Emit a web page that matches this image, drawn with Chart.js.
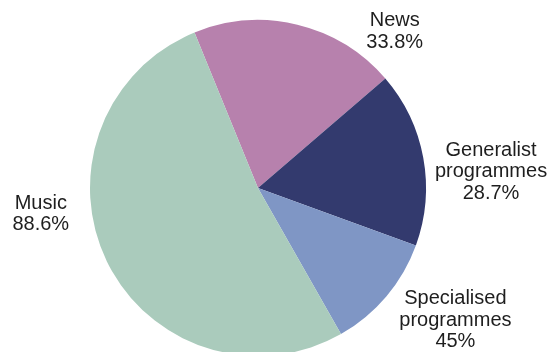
<!DOCTYPE html>
<html>
<head>
<meta charset="utf-8">
<script src="https://cdn.jsdelivr.net/npm/chart.js@4/dist/chart.umd.min.js"></script>
<style>
  html, body { margin: 0; padding: 0; background: #fff; }
  #wrap { width: 547px; height: 352px; overflow: hidden; }
</style>
</head>
<body>
<div id="wrap"><canvas id="pieChart" width="547" height="356"></canvas></div>
<script>
// Categories as they read on the chart
const categories = ['News', 'Generalist\nprogrammes', 'Specialised\nprogrammes', 'Music'];
// Printed value labels
const valueLabels = ['33.8%', '28.7%', '45%', '88.6%'];
// Slice sizes as drawn in the source (the "45%" slice is drawn much smaller, ~19)
const sliceSizes = [33.8, 28.7, 19.1, 88.6];
const sliceColors = ['#b781ad', '#333a6e', '#7f96c5', '#aacbbc'];

// where each label sits: angle clockwise from top (deg) and distance in pie radii
const labelLayout = [
  { angle: 40.9, dist: 1.243 },
  { angle: 85.7, dist: 1.391 },
  { angle: 123.5, dist: 1.409 },
  { angle: 263.6, dist: 1.301 },
];

const outsideLabels = {
  id: 'outsideLabels',
  afterDatasetsDraw(chart) {
    const ctx = chart.ctx;
    const arcs = chart.getDatasetMeta(0).data;
    const lineHeight = 21.7;
    ctx.save();
    ctx.font = '20px "Liberation Sans", Arial, sans-serif';
    ctx.fillStyle = '#1e1e1e';
    ctx.textAlign = 'center';
    ctx.textBaseline = 'alphabetic';
    arcs.forEach((arc, i) => {
      const a = labelLayout[i].angle * Math.PI / 180;
      const d = arc.outerRadius * labelLayout[i].dist;
      const cx = arc.x + Math.sin(a) * d;
      const cy = arc.y - Math.cos(a) * d;
      const lines = categories[i].split('\n').concat(valueLabels[i]);
      let y = cy + 7 - (lines.length - 1) * lineHeight / 2;
      lines.forEach((line) => {
        ctx.fillText(line, cx, y);
        y += lineHeight;
      });
    });
    ctx.restore();
  },
};

const ctx = document.getElementById('pieChart').getContext('2d');
new Chart(ctx, {
  type: 'pie',
  data: {
    labels: categories,
    datasets: [
      {
        data: sliceSizes,
        backgroundColor: sliceColors,
        borderWidth: 0,
        hoverOffset: 0,
      },
    ],
  },
  options: {
    responsive: false,
    animation: false,
    rotation: -22.2,
    layout: { padding: { top: 20, bottom: 0, left: 0, right: 31 } },
    plugins: {
      legend: { display: false },
      tooltip: { enabled: false },
    },
  },
  plugins: [outsideLabels],
});
</script>
</body>
</html>
